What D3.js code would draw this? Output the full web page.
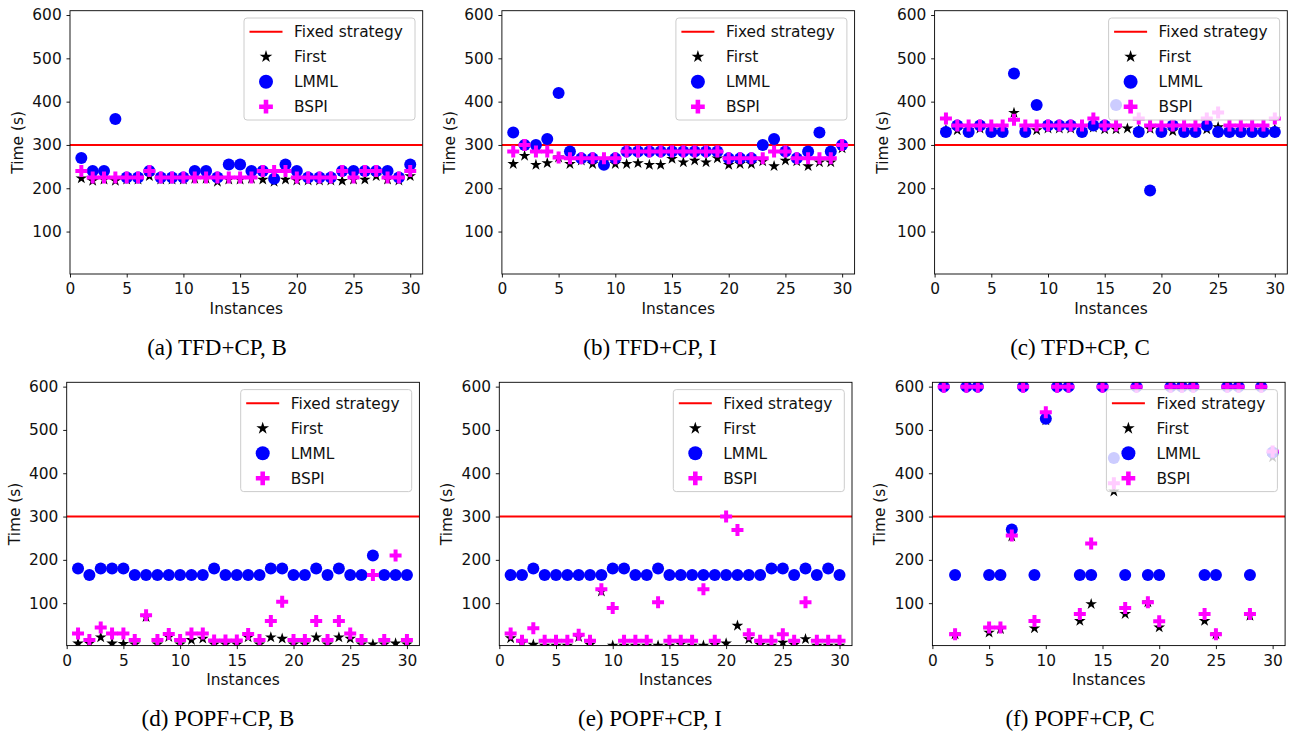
<!DOCTYPE html>
<html><head><meta charset="utf-8">
<script src="https://cdn.jsdelivr.net/npm/d3@7"></script>
<style>body{margin:0;background:#fff}svg{display:block}</style>
</head><body><svg id="chart" width="1296" height="732"></svg>
<script>
// ---------- data ----------
const instances = d3.range(1, 31);
const xTicks = [0, 5, 10, 15, 20, 25, 30];
const yTicks = [100, 200, 300, 400, 500, 600];
const fixedStrategy = 300;
const legendNames = ["Fixed strategy", "First", "LMML", "BSPI"];
const captions = ["(a) TFD+CP, B", "(b) TFD+CP, I", "(c) TFD+CP, C",
                  "(d) POPF+CP, B", "(e) POPF+CP, I", "(f) POPF+CP, C"];
const xLabel = "Instances";
const yLabel = "Time (s)";

const tfdB_first = [223,217,220,217,220,220,228,220,220,220,222,222,215,220,220,222,220,215,220,218,218,218,218,217,220,220,228,220,218,228];
const tfdB_lmml  = [270,240,240,360,225,225,240,225,225,225,240,240,225,255,255,240,240,222,255,240,225,225,225,240,240,240,240,240,225,255];
const tfdB_bspi  = [240,225,225,225,225,225,240,225,225,225,225,225,225,225,225,225,240,240,240,225,225,225,225,240,225,240,240,225,225,240];

const tfdI_first = [256,275,254,258,271,256,264,256,262,256,256,258,254,254,268,260,264,260,269,254,256,256,262,251,264,262,251,260,260,292];
const tfdI_lmml  = [329,300,300,314,420,285,269,269,254,269,285,285,285,285,285,285,285,285,285,269,269,269,300,314,285,269,285,329,285,300];
const tfdI_bspi  = [285,300,285,285,271,269,269,269,269,269,285,285,285,285,285,285,285,285,285,269,269,269,269,285,285,269,269,269,269,300];

const tfdC_first = [335,334,335,338,335,335,374,335,334,338,338,338,334,340,336,336,338,335,337,335,332,335,335,336,341,335,335,335,335,336];
const tfdC_lmml  = [330,345,330,345,330,330,465,330,392,345,345,345,330,345,345,392,null,330,195,330,345,330,330,345,330,330,330,330,330,330];
const tfdC_bspi  = [361,345,345,345,345,345,358,345,345,345,345,345,345,361,345,345,null,361,345,345,345,345,345,361,375,345,345,345,345,361];

const popfB_first = [7,7,21,7,6,5,68,5,22,5,15,18,5,5,5,21,5,21,18,5,5,21,5,21,18,5,5,5,7,5];
const popfB_lmml  = [180,165,180,180,180,165,165,165,165,165,165,165,180,165,165,165,165,180,180,165,165,180,165,180,165,165,210,165,165,165];
const popfB_bspi  = [30,15,44,30,30,15,72,15,29,15,30,30,14,14,14,29,15,59,103,15,15,59,15,59,30,15,165,15,210,15];

const popfI_first = [19,8,4,2,2,2,22,4,127,2,2,2,2,2,2,5,2,2,4,7,48,17,4,2,9,4,17,2,2,2];
const popfI_lmml  = [165,165,180,165,165,165,165,165,165,180,180,165,165,180,165,165,165,165,165,165,165,165,165,180,180,165,180,165,180,165];
const popfI_bspi  = [30,13,42,13,13,13,27,13,132,89,13,13,13,102,13,13,13,132,13,300,269,28,13,13,28,13,102,13,13,13];

const popfC_first = [600,28,600,600,32,40,254,600,42,522,600,600,59,98,600,358,75,600,102,44,600,600,600,59,28,600,600,71,600,437];
const popfC_lmml  = [600,165,600,600,165,165,270,600,165,526,600,600,165,165,600,435,165,600,165,165,600,600,600,165,165,600,600,165,600,448];
const popfC_bspi  = [600,28,600,600,44,44,256,600,59,541,600,600,75,238,600,377,89,600,102,58,600,600,600,75,28,600,600,75,600,450];

// ---------- layout ----------
const W = 352.7, H = 263.3;
const panels = [
  {first: tfdB_first, lmml: tfdB_lmml, bspi: tfdB_bspi, left: 70.0,  top: 10.7,  capX: 217},
  {first: tfdI_first, lmml: tfdI_lmml, bspi: tfdI_bspi, left: 501.9, top: 10.7,  capX: 650},
  {first: tfdC_first, lmml: tfdC_lmml, bspi: tfdC_bspi, left: 934.6, top: 10.7,  capX: 1080},
  {first: popfB_first, lmml: popfB_lmml, bspi: popfB_bspi, left: 66.7,  top: 382.3, capX: 218},
  {first: popfI_first, lmml: popfI_lmml, bspi: popfI_bspi, left: 499.3, top: 382.3, capX: 650},
  {first: popfC_first, lmml: popfC_lmml, bspi: popfC_bspi, left: 932.4, top: 382.3, capX: 1080}
];
const FONT = "'DejaVu Sans', sans-serif";
const FS = 15.4;
const colors = {fixed: "#ff0000", first: "#000000", lmml: "#0000ff", bspi: "#ff00ff"};

const svg = d3.select("#chart");
const defs = svg.append("defs");

const starSym = d3.symbol(d3.symbolStar, 42);
const circleSym = d3.symbol(d3.symbolCircle, Math.PI * 36);
const crossSym = d3.symbol(d3.symbolCross, 80);
const starSymL = d3.symbol(d3.symbolStar, 50);
const circleSymL = d3.symbol(d3.symbolCircle, Math.PI * 49);
const crossSymL = d3.symbol(d3.symbolCross, 105);

panels.forEach((p, i) => {
  const x = d3.scaleLinear().domain([0, 31.1]).range([p.left, p.left + W]);
  const y = d3.scaleLinear().domain([2, 610]).range([p.top + H, p.top]);
  const g = svg.append("g");

  defs.append("clipPath").attr("id", "clip" + i)
    .append("rect").attr("x", p.left).attr("y", p.top).attr("width", W).attr("height", H);

  const plot = g.append("g").attr("clip-path", `url(#clip${i})`);

  // fixed strategy line
  plot.append("line")
    .attr("x1", x.range()[0]).attr("x2", x.range()[1])
    .attr("y1", y(fixedStrategy)).attr("y2", y(fixedStrategy))
    .attr("stroke", colors.fixed).attr("stroke-width", 2);

  const pts = arr => instances.map((k, j) => ({k, v: arr[j]})).filter(d => d.v != null);

  plot.append("g").selectAll("path").data(pts(p.first)).join("path")
    .attr("transform", d => `translate(${x(d.k)},${y(d.v)})`)
    .attr("d", starSym).attr("fill", colors.first);
  plot.append("g").selectAll("path").data(pts(p.lmml)).join("path")
    .attr("transform", d => `translate(${x(d.k)},${y(d.v)})`)
    .attr("d", circleSym).attr("fill", colors.lmml);
  plot.append("g").selectAll("path").data(pts(p.bspi)).join("path")
    .attr("transform", d => `translate(${x(d.k)},${y(d.v)})`)
    .attr("d", crossSym).attr("fill", colors.bspi);

  // axes
  const ax = g.append("g").attr("transform", `translate(0,${p.top + H})`)
    .call(d3.axisBottom(x).tickValues(xTicks).tickSize(3.5).tickPadding(5.5).tickFormat(d3.format("d")));
  const ay = g.append("g").attr("transform", `translate(${p.left},0)`)
    .call(d3.axisLeft(y).tickValues(yTicks).tickSize(3.5).tickPadding(4.8).tickFormat(d3.format("d")));
  [ax, ay].forEach(a => {
    a.select(".domain").remove();
    a.selectAll("text").attr("font-family", FONT).attr("font-size", FS).attr("fill", "#111");
    a.selectAll("line").attr("stroke", "#000").attr("stroke-width", 0.9);
  });

  // spines
  g.append("rect").attr("x", p.left).attr("y", p.top).attr("width", W).attr("height", H)
    .attr("fill", "none").attr("stroke", "#000").attr("stroke-width", 0.9);

  // axis labels
  g.append("text").attr("x", p.left + W / 2).attr("y", p.top + H + 39.5)
    .attr("text-anchor", "middle").attr("font-family", FONT).attr("font-size", FS)
    .attr("fill", "#111").text(xLabel);
  g.append("text").attr("transform", `translate(${p.left - 47},${p.top + H / 2}) rotate(-90)`)
    .attr("text-anchor", "middle").attr("font-family", FONT).attr("font-size", FS)
    .attr("fill", "#111").text(yLabel);

  // legend
  const lx = p.left + W - 178.7, ly = p.top + 7.3;
  const lg = g.append("g").attr("transform", `translate(${lx},${ly})`);
  lg.append("rect").attr("width", 171).attr("height", 102).attr("rx", 3)
    .attr("fill", "#fff").attr("fill-opacity", 0.8).attr("stroke", "#cccccc").attr("stroke-width", 1);
  legendNames.forEach((name, j) => {
    const cy = 13.7 + 25 * j;
    if (j === 0) {
      lg.append("line").attr("x1", 5.5).attr("x2", 38.5).attr("y1", cy).attr("y2", cy)
        .attr("stroke", colors.fixed).attr("stroke-width", 2);
    } else {
      const sym = [null, starSymL, circleSymL, crossSymL][j];
      const col = [null, colors.first, colors.lmml, colors.bspi][j];
      lg.append("path").attr("transform", `translate(22,${cy})`).attr("d", sym).attr("fill", col);
    }
    lg.append("text").attr("x", 50).attr("y", cy).attr("dy", "0.36em")
      .attr("font-family", FONT).attr("font-size", FS).attr("fill", "#111").text(name);
  });

  // caption
  g.append("text").attr("x", p.capX).attr("y", p.top + H + 80.5)
    .attr("text-anchor", "middle").attr("font-family", "'Liberation Serif', 'Times New Roman', serif")
    .attr("font-size", 23).attr("fill", "#000").text(captions[i]);
});
</script></body></html>
